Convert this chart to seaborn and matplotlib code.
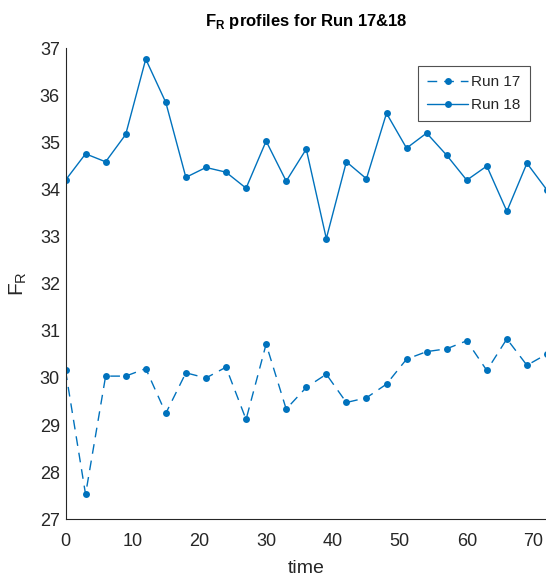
import numpy as np
import pandas as pd
import matplotlib
matplotlib.use("Agg")
import matplotlib.pyplot as plt
import seaborn as sns

# Sampling times and F_R readings for the two runs
time = [0, 3, 6, 9, 12, 15, 18, 21, 24, 27, 30, 33, 36,
        39, 42, 45, 48, 51, 54, 57, 60, 63, 66, 69, 72]
run17 = [30.16, 27.53, 30.04, 30.04, 30.20, 29.25, 30.11, 30.00, 30.23,
         29.12, 30.72, 29.34, 29.80, 30.08, 29.48, 29.58, 29.87, 30.40,
         30.56, 30.62, 30.79, 30.16, 30.83, 30.27, 30.51]
run18 = [34.20, 34.76, 34.59, 35.17, 36.77, 35.85, 34.26, 34.47, 34.37,
         34.03, 35.03, 34.18, 34.86, 32.96, 34.59, 34.23, 35.62, 34.88,
         35.20, 34.73, 34.20, 34.50, 33.54, 34.56, 33.99]
x_ticks = [0, 10, 20, 30, 40, 50, 60, 70]
y_ticks = [27, 28, 29, 30, 31, 32, 33, 34, 35, 36, 37]

sns.set_theme(style="white")
plt.rcParams["font.family"] = ["Liberation Sans", "DejaVu Sans"]
plt.rcParams["mathtext.fontset"] = "custom"
plt.rcParams["mathtext.rm"] = "Liberation Sans"
plt.rcParams["mathtext.bf"] = "Liberation Sans:bold"

df17 = pd.DataFrame({"time": time, "FR": run17})
df18 = pd.DataFrame({"time": time, "FR": run18})

blue = "#0072BD"
ink = "#262626"

fig = plt.figure(figsize=(5.46, 5.78), dpi=100)
W, H = 546, 578
left, right, top, bottom = 65.5, 547, 48.3, 519.3
ax = fig.add_axes([left / W, 1 - bottom / H, (right - left) / W, (bottom - top) / H])

sns.lineplot(data=df17, x="time", y="FR", ax=ax, color=blue, lw=1.0,
             marker="o", markersize=5, markeredgewidth=0, label="Run 17",
             dashes=False, linestyle=(0, (7, 5)))
sns.lineplot(data=df18, x="time", y="FR", ax=ax, color=blue, lw=1.0,
             marker="o", markersize=5, markeredgewidth=0, label="Run 18")

ax.set_xlim(0, 72)
ax.set_ylim(27, 37)
ax.set_xticks(x_ticks)
ax.set_yticks(y_ticks)
ax.tick_params(direction="in", length=4, width=0.8, colors=ink, labelsize=13)
ax.tick_params(axis="x", pad=10)
ax.tick_params(axis="y", pad=4)
for side in ("top", "right"):
    ax.spines[side].set_visible(False)
for side in ("left", "bottom"):
    ax.spines[side].set_color(ink)
    ax.spines[side].set_linewidth(0.8)

ax.set_xlabel("time", fontsize=14, color=ink, labelpad=7)
ax.set_ylabel(r"F$_{\mathrm{R}}$", fontsize=15, color=ink, labelpad=8)
ax.set_title(r"F$_{\mathbf{R}}$ profiles for Run 17&18", fontsize=12,
             fontweight="bold", color="black", pad=16)

leg = ax.legend(loc="upper right", bbox_to_anchor=(0.9647, 0.963),
                fontsize=11, frameon=True, fancybox=False,
                handlelength=2.7, borderpad=0.6, labelspacing=0.6,
                handletextpad=0.2, borderaxespad=0)
leg.get_frame().set_edgecolor(ink)
leg.get_frame().set_linewidth(0.8)

fig.savefig("out.png", dpi=100)
